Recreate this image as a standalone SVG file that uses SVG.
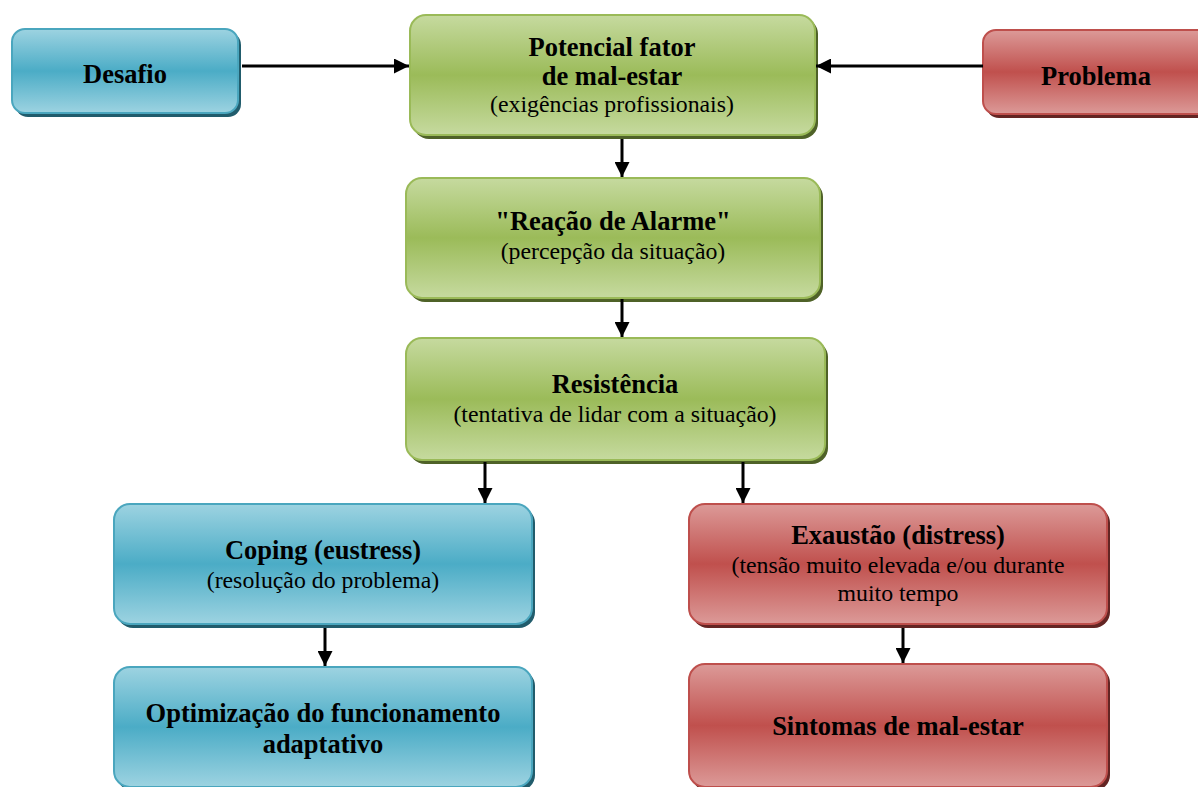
<svg xmlns="http://www.w3.org/2000/svg" width="1198" height="787" viewBox="0 0 1198 787">
<defs>
<linearGradient id="gb" x1="0" y1="0" x2="0" y2="1"><stop offset="0" stop-color="#9dd3e1"/><stop offset="0.5" stop-color="#4bacc6"/><stop offset="1" stop-color="#9dd3e1"/></linearGradient>
<linearGradient id="gg" x1="0" y1="0" x2="0" y2="1"><stop offset="0" stop-color="#c6da9f"/><stop offset="0.5" stop-color="#9bbb59"/><stop offset="1" stop-color="#c6da9f"/></linearGradient>
<linearGradient id="gr" x1="0" y1="0" x2="0" y2="1"><stop offset="0" stop-color="#dc9a98"/><stop offset="0.5" stop-color="#c0504d"/><stop offset="1" stop-color="#dc9a98"/></linearGradient>
<marker id="ah" viewBox="0 0 10 10" refX="10" refY="5" markerWidth="5" markerHeight="5" orient="auto" markerUnits="strokeWidth"><path d="M0,0 L10,5 L0,10 z" fill="#000"/></marker>
</defs>
<style>
.b{fill:url(#gb);stroke:#4aa6be;stroke-width:2}
.g{fill:url(#gg);stroke:#9aba58;stroke-width:2}
.r{fill:url(#gr);stroke:#be4f4c;stroke-width:2}
.sb{fill:#215c6c}.sg{fill:#4f6228}.sr{fill:#632523}
text{font-family:"Liberation Serif","Times New Roman",serif;fill:#000;text-anchor:middle}
.t{font-weight:bold;font-size:26.5px}
.s{font-size:23.8px}
.c line{stroke:#000;stroke-width:3;marker-end:url(#ah)}
</style>
<g id="n-desafio"><rect class="sb" x="15" y="32" width="226" height="85" rx="13"/><rect class="b" x="12" y="29" width="226" height="84" rx="13"/><text class="t" x="125" y="83">Desafio</text></g>
<g id="n-potencial"><rect class="sg" x="413" y="18" width="405" height="121" rx="16"/><rect class="g" x="410" y="15" width="405" height="120" rx="16"/><text class="t" x="612" y="56">Potencial fator</text><text class="t" x="612" y="85">de mal-estar</text><text class="s" x="612" y="112">(exigências profissionais)</text></g>
<g id="n-problema"><rect class="sr" x="986" y="33" width="230" height="85" rx="13"/><rect class="r" x="983" y="30" width="230" height="84" rx="13"/><text class="t" x="1096" y="85">Problema</text></g>
<g id="n-reacao"><rect class="sg" x="409" y="181" width="414" height="121" rx="16"/><rect class="g" x="406" y="178" width="414" height="120" rx="16"/><text class="t" x="613" y="230">"Reação de Alarme"</text><text class="s" x="613" y="259">(percepção da situação)</text></g>
<g id="n-resistencia"><rect class="sg" x="409" y="341" width="419" height="123" rx="16"/><rect class="g" x="406" y="338" width="419" height="122" rx="16"/><text class="t" x="615" y="393">Resistência</text><text class="s" x="615" y="422">(tentativa de lidar com a situação)</text></g>
<g id="n-coping"><rect class="sb" x="117" y="507" width="418" height="121" rx="16"/><rect class="b" x="114" y="504" width="418" height="120" rx="16"/><text class="t" x="323" y="559">Coping (eustress)</text><text class="s" x="323" y="588">(resolução do problema)</text></g>
<g id="n-exaustao"><rect class="sr" x="692" y="507" width="418" height="121" rx="16"/><rect class="r" x="689" y="504" width="418" height="120" rx="16"/><text class="t" x="898" y="544">Exaustão (distress)</text><text class="s" x="898" y="573">(tensão muito elevada e/ou durante</text><text class="s" x="898" y="601">muito tempo</text></g>
<g id="n-optimizacao"><rect class="sb" x="117" y="670" width="418" height="121" rx="16"/><rect class="b" x="114" y="667" width="418" height="120" rx="16"/><text class="t" x="323" y="722">Optimização do funcionamento</text><text class="t" x="323" y="753">adaptativo</text></g>
<g id="n-sintomas"><rect class="sr" x="692" y="667" width="418" height="124" rx="16"/><rect class="r" x="689" y="664" width="418" height="123" rx="16"/><text class="t" x="898" y="735">Sintomas de mal-estar</text></g>
<g class="c" id="connectors">
<line x1="242" y1="66" x2="409" y2="66"/>
<line x1="983" y1="66" x2="816" y2="66"/>
<line x1="622" y1="139" x2="622" y2="177"/>
<line x1="622" y1="299" x2="622" y2="337"/>
<line x1="485" y1="462" x2="485" y2="503"/>
<line x1="743" y1="462" x2="743" y2="503"/>
<line x1="325" y1="628" x2="325" y2="666"/>
<line x1="903" y1="628" x2="903" y2="663"/>
</g>
</svg>
